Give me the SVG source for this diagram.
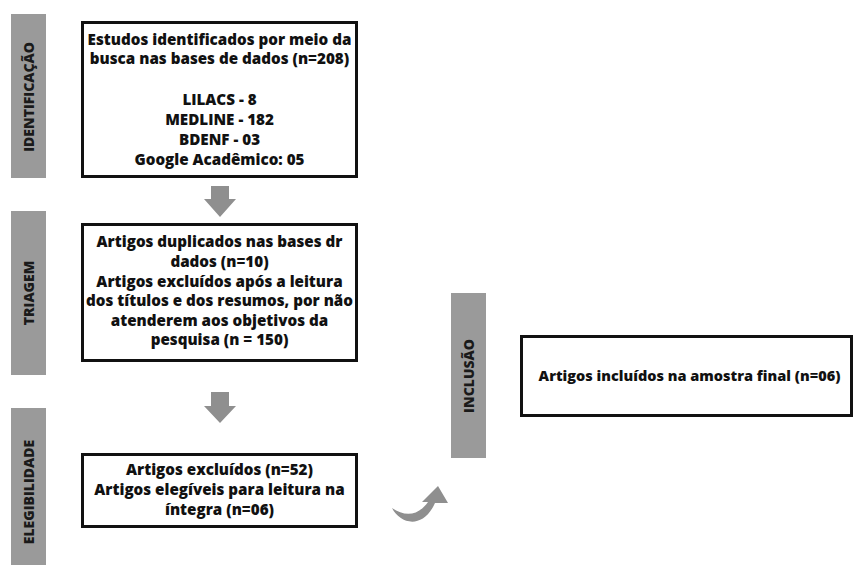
<svg xmlns="http://www.w3.org/2000/svg" width="859" height="565" viewBox="0 0 859 565">
<style>
.side{fill:#9a9a9a}
.st{font-family:"Open Sans","Noto Sans",sans-serif;font-weight:800;font-size:14px;fill:#1a1a1a;text-anchor:middle}
.box{fill:#fff;stroke:#111;stroke-width:3}
.t{font-family:"Open Sans","Noto Sans",sans-serif;font-weight:800;font-size:15.2px;fill:#111;text-anchor:middle}
.arr{fill:#8f8f8f}
</style>
<rect width="859" height="565" fill="#fff"/>
<g id="stage-identificacao">
<rect class="side" x="11" y="14" width="35" height="164"/>
<text class="st" transform="translate(34,97) rotate(-90)">IDENTIFICAÇÃO</text>
</g>
<g id="stage-triagem">
<rect class="side" x="11" y="211" width="35" height="164"/>
<text class="st" transform="translate(34,293) rotate(-90)">TRIAGEM</text>
</g>
<g id="stage-elegibilidade">
<rect class="side" x="11" y="408" width="35" height="170"/>
<text class="st" transform="translate(34,492) rotate(-90)">ELEGIBILIDADE</text>
</g>
<g id="stage-inclusao">
<rect class="side" x="451" y="293" width="35" height="165"/>
<text class="st" transform="translate(474,376) rotate(-90)">INCLUSÃO</text>
</g>
<g id="node-identificacao">
<rect class="box" x="82.5" y="22.5" width="274" height="154"/>
<text class="t" x="219.5" y="45">Estudos identificados por meio da</text>
<text class="t" x="219.5" y="64">busca nas bases de dados (n=208)</text>
<text class="t" x="219.5" y="105">LILACS - 8</text>
<text class="t" x="219.5" y="125">MEDLINE - 182</text>
<text class="t" x="219.5" y="145">BDENF - 03</text>
<text class="t" x="219.5" y="165">Google Acadêmico: 05</text>
</g>
<g id="node-triagem">
<rect class="box" x="82.5" y="224.5" width="274" height="136"/>
<text class="t" x="219.5" y="247">Artigos duplicados nas bases dr</text>
<text class="t" x="219.5" y="267">dados (n=10)</text>
<text class="t" x="219.5" y="287">Artigos excluídos após a leitura</text>
<text class="t" x="219.5" y="306">dos títulos e dos resumos, por não</text>
<text class="t" x="219.5" y="326">atenderem aos objetivos da</text>
<text class="t" x="219.5" y="345">pesquisa (n = 150)</text>
</g>
<g id="node-elegibilidade">
<rect class="box" x="82.5" y="454.5" width="274" height="72"/>
<text class="t" x="219.5" y="475">Artigos excluídos (n=52)</text>
<text class="t" x="219.5" y="495">Artigos elegíveis para leitura na</text>
<text class="t" x="219.5" y="515">íntegra (n=06)</text>
</g>
<g id="node-inclusao">
<rect class="box" x="521.5" y="336.5" width="330" height="79"/>
<text class="t" x="689.5" y="381" style="font-size:14.5px">Artigos incluídos na amostra final (n=06)</text>
</g>
<g id="connectors">
<path class="arr" d="M211,186 H229 V199 H236 L220,217 L204,199 H211 Z"/>
<path class="arr" d="M211,392 H229 V406 H236 L220,423 L204,406 H211 Z"/>
<path class="arr" d="M392,508 C400,524 423,530 435,503 L448,503 L438,486 L422,502 L428,502 C418,516 405,517 392,508 Z"/>
</g>
</svg>
